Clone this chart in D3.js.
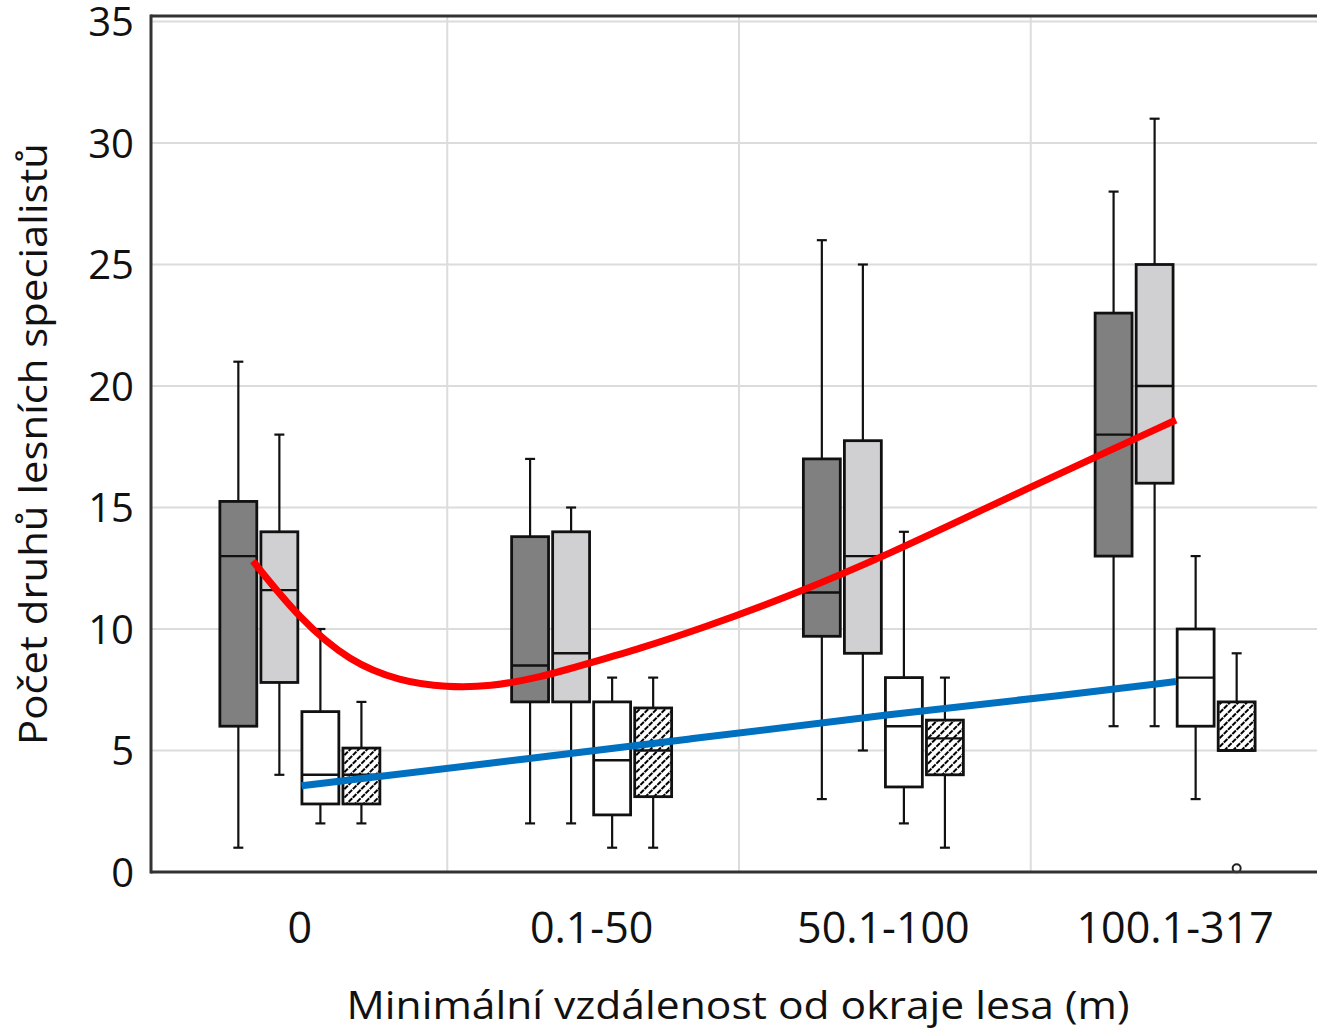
<!DOCTYPE html>
<html>
<head>
<meta charset="utf-8">
<script src="https://cdn.jsdelivr.net/npm/d3@7"></script>
<style>
  html, body { margin: 0; padding: 0; background: #fff; }
  svg { display: block; }
</style>
</head>
<body>
<svg id="chart" width="1317" height="1031"></svg>
<script>
// ---------------- DATA ----------------
const categories = ["0", "0.1-50", "50.1-100", "100.1-317"];
const seriesKeys = ["tmave", "svetle", "bile", "srafovane"];
const yTicks = [0, 5, 10, 15, 20, 25, 30, 35];

// [min, q1, median, q3, max] for each category
const darkBoxes  = [[1, 6, 13, 15.25, 21], [2, 7, 8.5, 13.8, 17], [3, 9.7, 11.5, 17, 26], [6, 13, 18, 23, 28]];
const lightBoxes = [[4, 7.8, 11.6, 14, 18], [2, 7, 9, 14, 15], [5, 9, 13, 17.75, 25], [6, 16, 20, 25, 31]];
const whiteBoxes = [[2, 2.8, 4, 6.6, 10], [1, 2.35, 4.6, 7, 8], [2, 3.5, 6, 8, 14], [3, 6, 8, 10, 13]];
const hatchBoxes = [[2, 2.8, 4, 5.1, 7], [1, 3.1, 5, 6.75, 8], [1, 4, 5.5, 6.25, 8], [5, 5, 5, 7, 9]];

const outlierCats   = ["100.1-317"];
const outlierSeries = ["srafovane"];
const outlierValues = [0.15];

// fitted curves: position along category axis (0 = first category centre) and value
const redPos  = [-0.161, 0, 0.171, 0.343, 0.504, 0.651, 0.823, 0.994, 1.166, 1.371, 1.68, 2.023, 2.365, 2.64, 3.003];
const redVal  = [12.8, 10.4, 8.65, 7.85, 7.6, 7.63, 8.0, 8.6, 9.2, 10.0, 11.35, 13.1, 15.05, 16.6, 18.6];
const bluePos = [0.006, 0.651, 1.337, 2.023, 2.64, 3.003];
const blueVal = [3.55, 4.47, 5.47, 6.5, 7.3, 7.84];

const yTitle = "Počet druhů lesních specialistů";
const xTitle = "Minimální vzdálenost od okraje lesa (m)";

// ---------------- STYLE / LAYOUT ----------------
const W = 1317, H = 1031;
const plotLeft = 151, plotTop = 16, plotBottom = 872;
const seriesFill = { tmave: "#808080", svetle: "#d0cfd1", bile: "#ffffff", srafovane: "url(#hatch)" };
const FONT = "'Open Sans', 'Noto Sans', sans-serif";

const svg = d3.select("#chart");

const defs = svg.append("defs");
const pat = defs.append("pattern")
  .attr("id", "hatch").attr("patternUnits", "userSpaceOnUse")
  .attr("width", 6).attr("height", 6)
  .attr("patternTransform", "rotate(45)");
pat.append("rect").attr("width", 6).attr("height", 6).attr("fill", "#fff");
pat.append("line").attr("x1", 1).attr("y1", 0).attr("x2", 1).attr("y2", 6)
  .attr("stroke", "#000").attr("stroke-width", 2).attr("stroke-dasharray", "5 1");

const x = d3.scaleBand().domain(categories).range([154, 1321]).paddingInner(0).paddingOuter(0);
const xc = c => x(c) + x.bandwidth() / 2;
const xPos = d3.scaleLinear().domain([0, 3]).range([xc(categories[0]), xc(categories[3])]);
const xs = d3.scaleBand().domain(seriesKeys).range([-80, 80]).paddingInner(0.1);
const y = d3.scaleLinear().domain([0, 35]).range([plotBottom, 21.5]);

// grid
const grid = svg.append("g");
grid.selectAll("line.h").data(yTicks.filter(d => d > 0)).join("line")
  .attr("x1", plotLeft).attr("x2", W).attr("y1", d => y(d)).attr("y2", d => y(d))
  .attr("stroke", "#dcdcdc").attr("stroke-width", 2);
grid.selectAll("line.v").data(categories.slice(1)).join("line")
  .attr("x1", d => x(d) + 1.5).attr("x2", d => x(d) + 1.5).attr("y1", plotTop).attr("y2", plotBottom)
  .attr("stroke", "#dcdcdc").attr("stroke-width", 2);

// boxes
const allBoxes = { tmave: darkBoxes, svetle: lightBoxes, bile: whiteBoxes, srafovane: hatchBoxes };
const boxData = [];
seriesKeys.forEach(s => categories.forEach((c, i) => {
  const [mn, q1, md, q3, mx] = allBoxes[s][i];
  boxData.push({ s, c, mn, q1, md, q3, mx });
}));
const bw = xs.bandwidth();
const gBox = svg.append("g");
const bg = gBox.selectAll("g").data(boxData).join("g")
  .attr("transform", d => `translate(${xc(d.c) + xs(d.s)},0)`);
const stroke = "#111";
// whiskers
bg.append("line").attr("x1", bw / 2).attr("x2", bw / 2)
  .attr("y1", d => y(d.mx)).attr("y2", d => y(d.q3)).attr("stroke", stroke).attr("stroke-width", 2.2)
  .attr("display", d => d.mx > d.q3 ? null : "none");
bg.append("line").attr("x1", bw / 2).attr("x2", bw / 2)
  .attr("y1", d => y(d.q1)).attr("y2", d => y(d.mn)).attr("stroke", stroke).attr("stroke-width", 2.2)
  .attr("display", d => d.mn < d.q1 ? null : "none");
bg.append("line").attr("x1", bw / 2 - 5).attr("x2", bw / 2 + 5)
  .attr("y1", d => y(d.mx)).attr("y2", d => y(d.mx)).attr("stroke", stroke).attr("stroke-width", 2.2)
  .attr("display", d => d.mx > d.q3 ? null : "none");
bg.append("line").attr("x1", bw / 2 - 5).attr("x2", bw / 2 + 5)
  .attr("y1", d => y(d.mn)).attr("y2", d => y(d.mn)).attr("stroke", stroke).attr("stroke-width", 2.2)
  .attr("display", d => d.mn < d.q1 ? null : "none");
// box
bg.append("rect").attr("x", 0).attr("width", bw)
  .attr("y", d => y(d.q3)).attr("height", d => y(d.q1) - y(d.q3))
  .attr("fill", d => seriesFill[d.s]).attr("stroke", stroke).attr("stroke-width", 2.8);
// median
bg.append("line").attr("x1", 0).attr("x2", bw)
  .attr("y1", d => y(d.md)).attr("y2", d => y(d.md)).attr("stroke", stroke).attr("stroke-width", 2.4);

// outliers
svg.append("g").selectAll("circle").data(outlierValues.map((v, i) => ({ v, c: outlierCats[i], s: outlierSeries[i] })))
  .join("circle")
  .attr("cx", d => xc(d.c) + xs(d.s) + bw / 2).attr("cy", d => y(d.v)).attr("r", 4)
  .attr("fill", "#fff").attr("stroke", "#222").attr("stroke-width", 2);

// curves
const line = d3.line().x(d => xPos(d[0])).y(d => y(d[1])).curve(d3.curveBasis);
svg.append("path").datum(bluePos.map((p, i) => [p, blueVal[i]]))
  .attr("d", line).attr("fill", "none").attr("stroke", "#0070c0").attr("stroke-width", 7);
svg.append("path").datum(redPos.map((p, i) => [p, redVal[i]]))
  .attr("d", line).attr("fill", "none").attr("stroke", "#ff0000").attr("stroke-width", 7);

// frame
const frame = svg.append("g").attr("stroke", "#333").attr("stroke-width", 3);
frame.append("line").attr("x1", plotLeft).attr("x2", W).attr("y1", plotTop).attr("y2", plotTop);
frame.append("line").attr("x1", plotLeft).attr("x2", plotLeft).attr("y1", plotTop - 1.5).attr("y2", plotBottom + 1.5);
frame.append("line").attr("x1", plotLeft).attr("x2", W).attr("y1", plotBottom).attr("y2", plotBottom);

// y axis labels
const yAxis = d3.axisLeft(y).tickValues(yTicks).tickSize(0).tickPadding(0);
const ya = svg.append("g").attr("transform", "translate(134,0)").call(yAxis);
ya.select(".domain").remove();
ya.selectAll("text").attr("font-family", FONT).attr("font-size", 40).attr("fill", "#111")
  .attr("dy", "0.36em");

// x axis labels
const xAxis = d3.axisBottom(x).tickSize(0).tickPadding(0);
const xa = svg.append("g").attr("transform", "translate(0,943)").call(xAxis);
xa.select(".domain").remove();
xa.selectAll("text").attr("font-family", FONT).attr("font-size", 43).attr("fill", "#111").attr("dy", 0);

// titles
svg.append("text").attr("x", 738).attr("y", 1019).attr("text-anchor", "middle")
  .attr("font-family", FONT).attr("font-size", 39).attr("fill", "#111")
  .attr("textLength", 783).attr("lengthAdjust", "spacingAndGlyphs").text(xTitle);
svg.append("text").attr("transform", "translate(47,444) rotate(-90)").attr("text-anchor", "middle")
  .attr("font-family", FONT).attr("font-size", 38).attr("fill", "#111")
  .attr("textLength", 602).attr("lengthAdjust", "spacingAndGlyphs").text(yTitle);
</script>
</body>
</html>
